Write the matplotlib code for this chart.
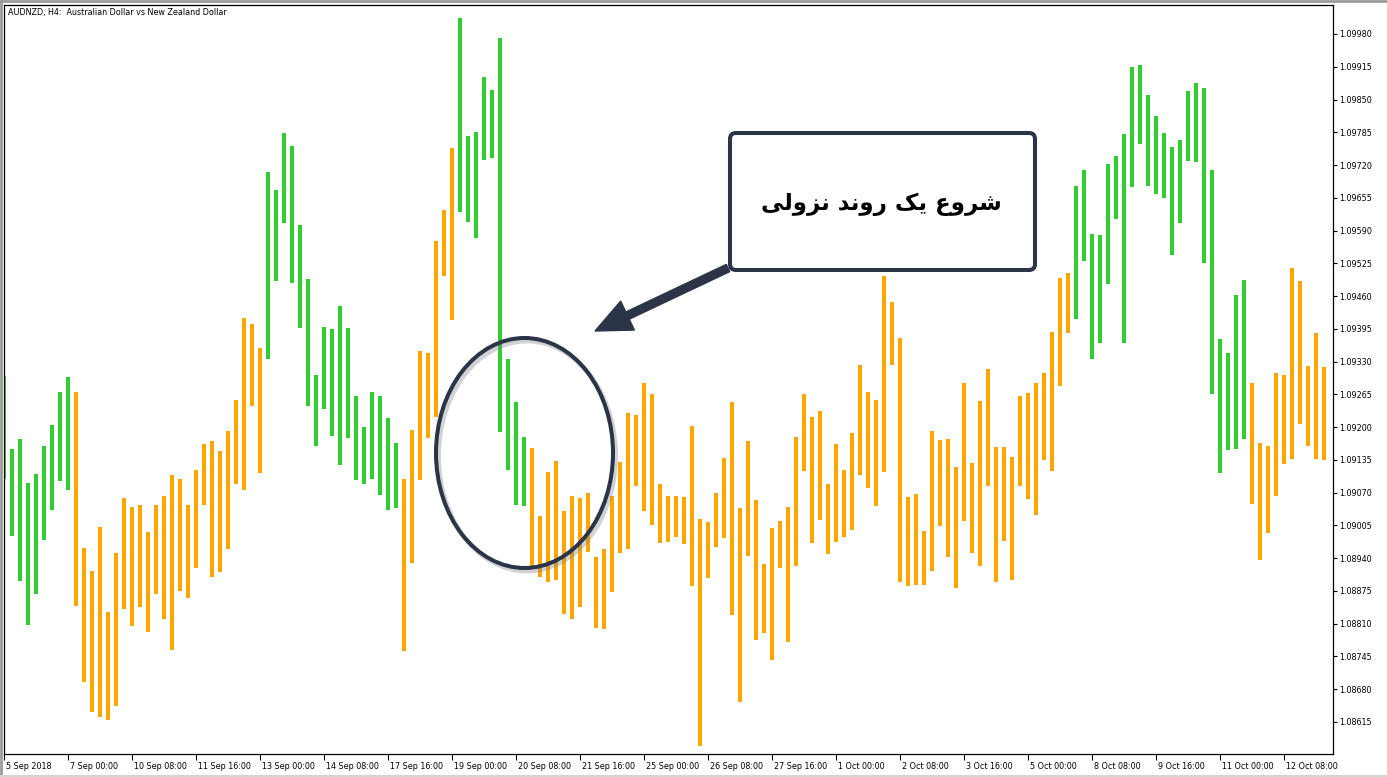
import matplotlib
matplotlib.use("Agg")
import matplotlib.pyplot as plt
from matplotlib import font_manager, ft2font
from matplotlib.patches import FancyBboxPatch, Ellipse, FancyArrow
from matplotlib.transforms import ScaledTranslation

title = "AUDNZD, H4:  Australian Dollar vs New Zealand Dollar"
note = "شروع یک روند نزولی"

# H4 bars, one value per bar (oldest first)
highs = [
    1.09302, 1.09157, 1.09177, 1.09089, 1.09107, 1.09163, 1.09204, 1.09270, 1.09300, 1.09270,
    1.08960, 1.08915, 1.09002, 1.08833, 1.08950, 1.09059, 1.09042, 1.09046, 1.08992, 1.09046,
    1.09063, 1.09105, 1.09097, 1.09046, 1.09115, 1.09167, 1.09173, 1.09153, 1.09192, 1.09254,
    1.09417, 1.09405, 1.09357, 1.09706, 1.09671, 1.09784, 1.09758, 1.09601, 1.09494, 1.09303,
    1.09399, 1.09395, 1.09440, 1.09397, 1.09262, 1.09200, 1.09270, 1.09262, 1.09218, 1.09169,
    1.09097, 1.09194, 1.09351, 1.09347, 1.09569, 1.09631, 1.09754, 1.10012, 1.09778, 1.09786,
    1.09895, 1.09869, 1.09972, 1.09335, 1.09250, 1.09180, 1.09159, 1.09024, 1.09111, 1.09133,
    1.09034, 1.09063, 1.09059, 1.09069, 1.08942, 1.08958, 1.09063, 1.09131, 1.09228, 1.09224,
    1.09288, 1.09266, 1.09087, 1.09063, 1.09063, 1.09061, 1.09202, 1.09018, 1.09012, 1.09069,
    1.09139, 1.09250, 1.09040, 1.09173, 1.09055, 1.08928, 1.09000, 1.09014, 1.09042, 1.09180,
    1.09266, 1.09220, 1.09232, 1.09087, 1.09167, 1.09115, 1.09188, 1.09323, 1.09270, 1.09254,
    1.09500, 1.09448, 1.09377, 1.09061, 1.09067, 1.08994, 1.09192, 1.09175, 1.09177, 1.09121,
    1.09288, 1.09129, 1.09252, 1.09315, 1.09161, 1.09161, 1.09141, 1.09262, 1.09268, 1.09288,
    1.09307, 1.09389, 1.09496, 1.09506, 1.09678, 1.09710, 1.09583, 1.09581, 1.09722, 1.09738,
    1.09782, 1.09915, 1.09919, 1.09859, 1.09817, 1.09784, 1.09756, 1.09770, 1.09867, 1.09883,
    1.09873, 1.09710, 1.09375, 1.09347, 1.09462, 1.09492, 1.09288, 1.09169, 1.09163, 1.09307,
    1.09303, 1.09516, 1.09490, 1.09321, 1.09387, 1.09319,
]
lows = [
    1.09097, 1.08984, 1.08895, 1.08808, 1.08869, 1.08976, 1.09036, 1.09093, 1.09075, 1.08845,
    1.08694, 1.08635, 1.08625, 1.08619, 1.08647, 1.08839, 1.08806, 1.08843, 1.08794, 1.08869,
    1.08819, 1.08758, 1.08875, 1.08861, 1.08921, 1.09046, 1.08903, 1.08913, 1.08958, 1.09087,
    1.09075, 1.09242, 1.09109, 1.09335, 1.09490, 1.09605, 1.09486, 1.09397, 1.09242, 1.09163,
    1.09236, 1.09182, 1.09125, 1.09178, 1.09095, 1.09087, 1.09097, 1.09065, 1.09036, 1.09040,
    1.08756, 1.08930, 1.09095, 1.09178, 1.09220, 1.09500, 1.09413, 1.09627, 1.09607, 1.09575,
    1.09730, 1.09734, 1.09190, 1.09115, 1.09046, 1.09044, 1.08921, 1.08903, 1.08893, 1.08897,
    1.08829, 1.08819, 1.08843, 1.08952, 1.08802, 1.08800, 1.08873, 1.08950, 1.08958, 1.09083,
    1.09034, 1.09006, 1.08970, 1.08972, 1.08982, 1.08968, 1.08885, 1.08567, 1.08901, 1.08962,
    1.08980, 1.08827, 1.08655, 1.08944, 1.08778, 1.08792, 1.08738, 1.08921, 1.08774, 1.08925,
    1.09113, 1.08970, 1.09016, 1.08948, 1.08972, 1.08982, 1.08996, 1.09105, 1.09079, 1.09044,
    1.09111, 1.09323, 1.08893, 1.08885, 1.08887, 1.08887, 1.08915, 1.09004, 1.08942, 1.08881,
    1.09014, 1.08950, 1.08925, 1.09083, 1.08893, 1.08974, 1.08897, 1.09083, 1.09057, 1.09026,
    1.09135, 1.09113, 1.09282, 1.09387, 1.09415, 1.09530, 1.09335, 1.09367, 1.09484, 1.09613,
    1.09367, 1.09676, 1.09762, 1.09678, 1.09663, 1.09655, 1.09542, 1.09605, 1.09728, 1.09726,
    1.09526, 1.09266, 1.09109, 1.09155, 1.09157, 1.09177, 1.09048, 1.08936, 1.08990, 1.09063,
    1.09127, 1.09137, 1.09206, 1.09163, 1.09137, 1.09135,
]
# g = green bar, o = orange bar
trend = ("ggggggggg"
         "oooooooooooooooooooooooo"
         "ggggggggggggggggg"
         "ooooooo"
         "ggggggggg"
         "oooooooooooooooooooooooooooooooooooooooooooooooooooooooooooooooooooo"
         "gggggggggggggggggggggg"
         "oooooooooo")

xtick_bars = [0, 8, 16, 24, 32, 40, 48, 56, 64, 72, 80, 88, 96, 104, 112, 120, 128, 136, 144, 152, 160]
xtick_labels = ["5 Sep 2018", "7 Sep 00:00", "10 Sep 08:00", "11 Sep 16:00", "13 Sep 00:00",
                "14 Sep 08:00", "17 Sep 16:00", "19 Sep 00:00", "20 Sep 08:00", "21 Sep 16:00",
                "25 Sep 00:00", "26 Sep 08:00", "27 Sep 16:00", "1 Oct 00:00", "2 Oct 08:00",
                "3 Oct 16:00", "5 Oct 00:00", "8 Oct 08:00", "9 Oct 16:00", "11 Oct 00:00",
                "12 Oct 08:00"]
yticks = [1.08615, 1.08680, 1.08745, 1.08810, 1.08875, 1.08940, 1.09005, 1.09070, 1.09135,
          1.09200, 1.09265, 1.09330, 1.09395, 1.09460, 1.09525, 1.09590, 1.09655, 1.09720,
          1.09785, 1.09850, 1.09915, 1.09980]

GREEN = "#32cd32"
ORANGE = "#ffa500"
NAVY = "#2c3447"


# --- minimal Persian shaping (matplotlib has no Arabic shaping) ---
# isolated, final, initial, medial
FORMS = {
    "\u0634": ("\uFEB5", "\uFEB6", "\uFEB7", "\uFEB8"),
    "\u0631": ("\uFEAD", "\uFEAE", None, None),
    "\u0632": ("\uFEAF", "\uFEB0", None, None),
    "\u0648": ("\uFEED", "\uFEEE", None, None),
    "\u062F": ("\uFEA9", "\uFEAA", None, None),
    "\u0639": ("\uFEC9", "\uFECA", "\uFECB", "\uFECC"),
    "\u06CC": ("\uFBFC", "\uFBFD", "\uFBFE", "\uFBFF"),
    "\u064A": ("\uFBFC", "\uFBFD", "\uFBFE", "\uFBFF"),
    "\u06A9": ("\uFB8E", "\uFB8F", "\uFB90", "\uFB91"),
    "\u0643": ("\uFB8E", "\uFB8F", "\uFB90", "\uFB91"),
    "\u0646": ("\uFEE5", "\uFEE6", "\uFEE7", "\uFEE8"),
    "\u0644": ("\uFEDD", "\uFEDE", "\uFEDF", "\uFEE0"),
}
FALLBACK = {"\uFBFC": "\uFEEF", "\uFBFD": "\uFEF0", "\uFBFE": "\uFEF3", "\uFBFF": "\uFEF4",
            "\uFB8E": "\uFED9", "\uFB8F": "\uFEDA", "\uFB90": "\uFEDB", "\uFB91": "\uFEDC"}


def shape(s, cmap):
    out = []
    for i, ch in enumerate(s):
        if ch not in FORMS:
            out.append(ch)
            continue
        prev = s[i - 1] if i > 0 else ""
        nxt = s[i + 1] if i + 1 < len(s) else ""
        jp = prev in FORMS and FORMS[prev][2] is not None
        jn = nxt in FORMS and FORMS[ch][2] is not None
        iso, fin, ini, med = FORMS[ch]
        g = med if (jp and jn) else fin if jp else ini if jn else iso
        if ord(g) not in cmap and g in FALLBACK:
            g = FALLBACK[g]
        out.append(g)
    return "".join(out)[::-1]


weight = "bold"
path = font_manager.findfont(font_manager.FontProperties(family="DejaVu Sans", weight=weight))
cmap = ft2font.FT2Font(path).get_charmap()
if 0xFEB7 not in cmap:
    weight = "normal"
    path = font_manager.findfont(font_manager.FontProperties(family="DejaVu Sans"))
    cmap = ft2font.FT2Font(path).get_charmap()

W, H = 1387, 777
fig = plt.figure(figsize=(W / 100, H / 100), dpi=100)
fig.patch.set_facecolor("white")

L, R, T, B = 4, 1333, 5, 754
ax = fig.add_axes([L / W, 1 - B / H, (R - L) / W, (B - T) / H])
x = list(range(len(highs)))
cols = [GREEN if c == "g" else ORANGE for c in trend]
ax.bar(x, [h - l for h, l in zip(highs, lows)], bottom=lows, width=0.5,
       color=cols, linewidth=0, zorder=2)
ax.set_xlim(0, (R - L) / 8)
ax.set_ylim(1.085515, 1.100375)

for s in ax.spines.values():
    s.set_linewidth(0.9)
    s.set_color("black")

ax.yaxis.tick_right()
ax.set_yticks(yticks)
ax.set_yticklabels(["%.5f" % v for v in yticks])
ax.tick_params(axis="y", direction="out", length=3, width=0.8, pad=1.5, labelsize=5.8)
ax.set_xticks(xtick_bars)
ax.set_xticklabels(xtick_labels)
ax.tick_params(axis="x", direction="out", length=4, width=0.8, pad=1.5, labelsize=5.8)
shift = ScaledTranslation(1.5 / 100, 0, fig.dpi_scale_trans)
for lbl in ax.get_xticklabels():
    lbl.set_ha("left")
    lbl.set_transform(lbl.get_transform() + shift)

# overlay in pixel units for the annotation drawing
ov = fig.add_axes([0, 0, 1, 1], facecolor="none")
ov.set_xlim(0, W)
ov.set_ylim(H, 0)
ov.axis("off")

ov.plot([1, 1], [0, H], color="#9a9a9a", lw=2.0)
ov.plot([0, W], [1, 1], color="#9a9a9a", lw=2.0)
ov.plot([0, W], [H - 1, H - 1], color="#d4d4d4", lw=1.5)

ov.text(8, 12, title, fontsize=5.8, ha="left", va="center", color="black")

ov.add_patch(FancyArrow(728, 268, 595 - 728, 331 - 268, width=8, head_width=32,
                        head_length=36, length_includes_head=True,
                        fc=NAVY, ec=NAVY, zorder=3))
ov.add_patch(FancyBboxPatch((730, 133), 305, 137, boxstyle="round,pad=0,rounding_size=6",
                            fc="white", ec=NAVY, lw=2.9, zorder=4))
ov.text(881, 204, shape(note, cmap), fontsize=16.5, fontweight=weight, family="DejaVu Sans",
        ha="center", va="center", color="black", zorder=5)

ov.add_patch(Ellipse((527, 456), 177, 230, fill=False, ec="#7a7f88", lw=3.5, alpha=0.35, zorder=3))
ov.add_patch(Ellipse((524.5, 453), 177, 230, fill=False, ec=NAVY, lw=2.9, zorder=4))

fig.savefig("out.png", dpi=100, facecolor="white")
